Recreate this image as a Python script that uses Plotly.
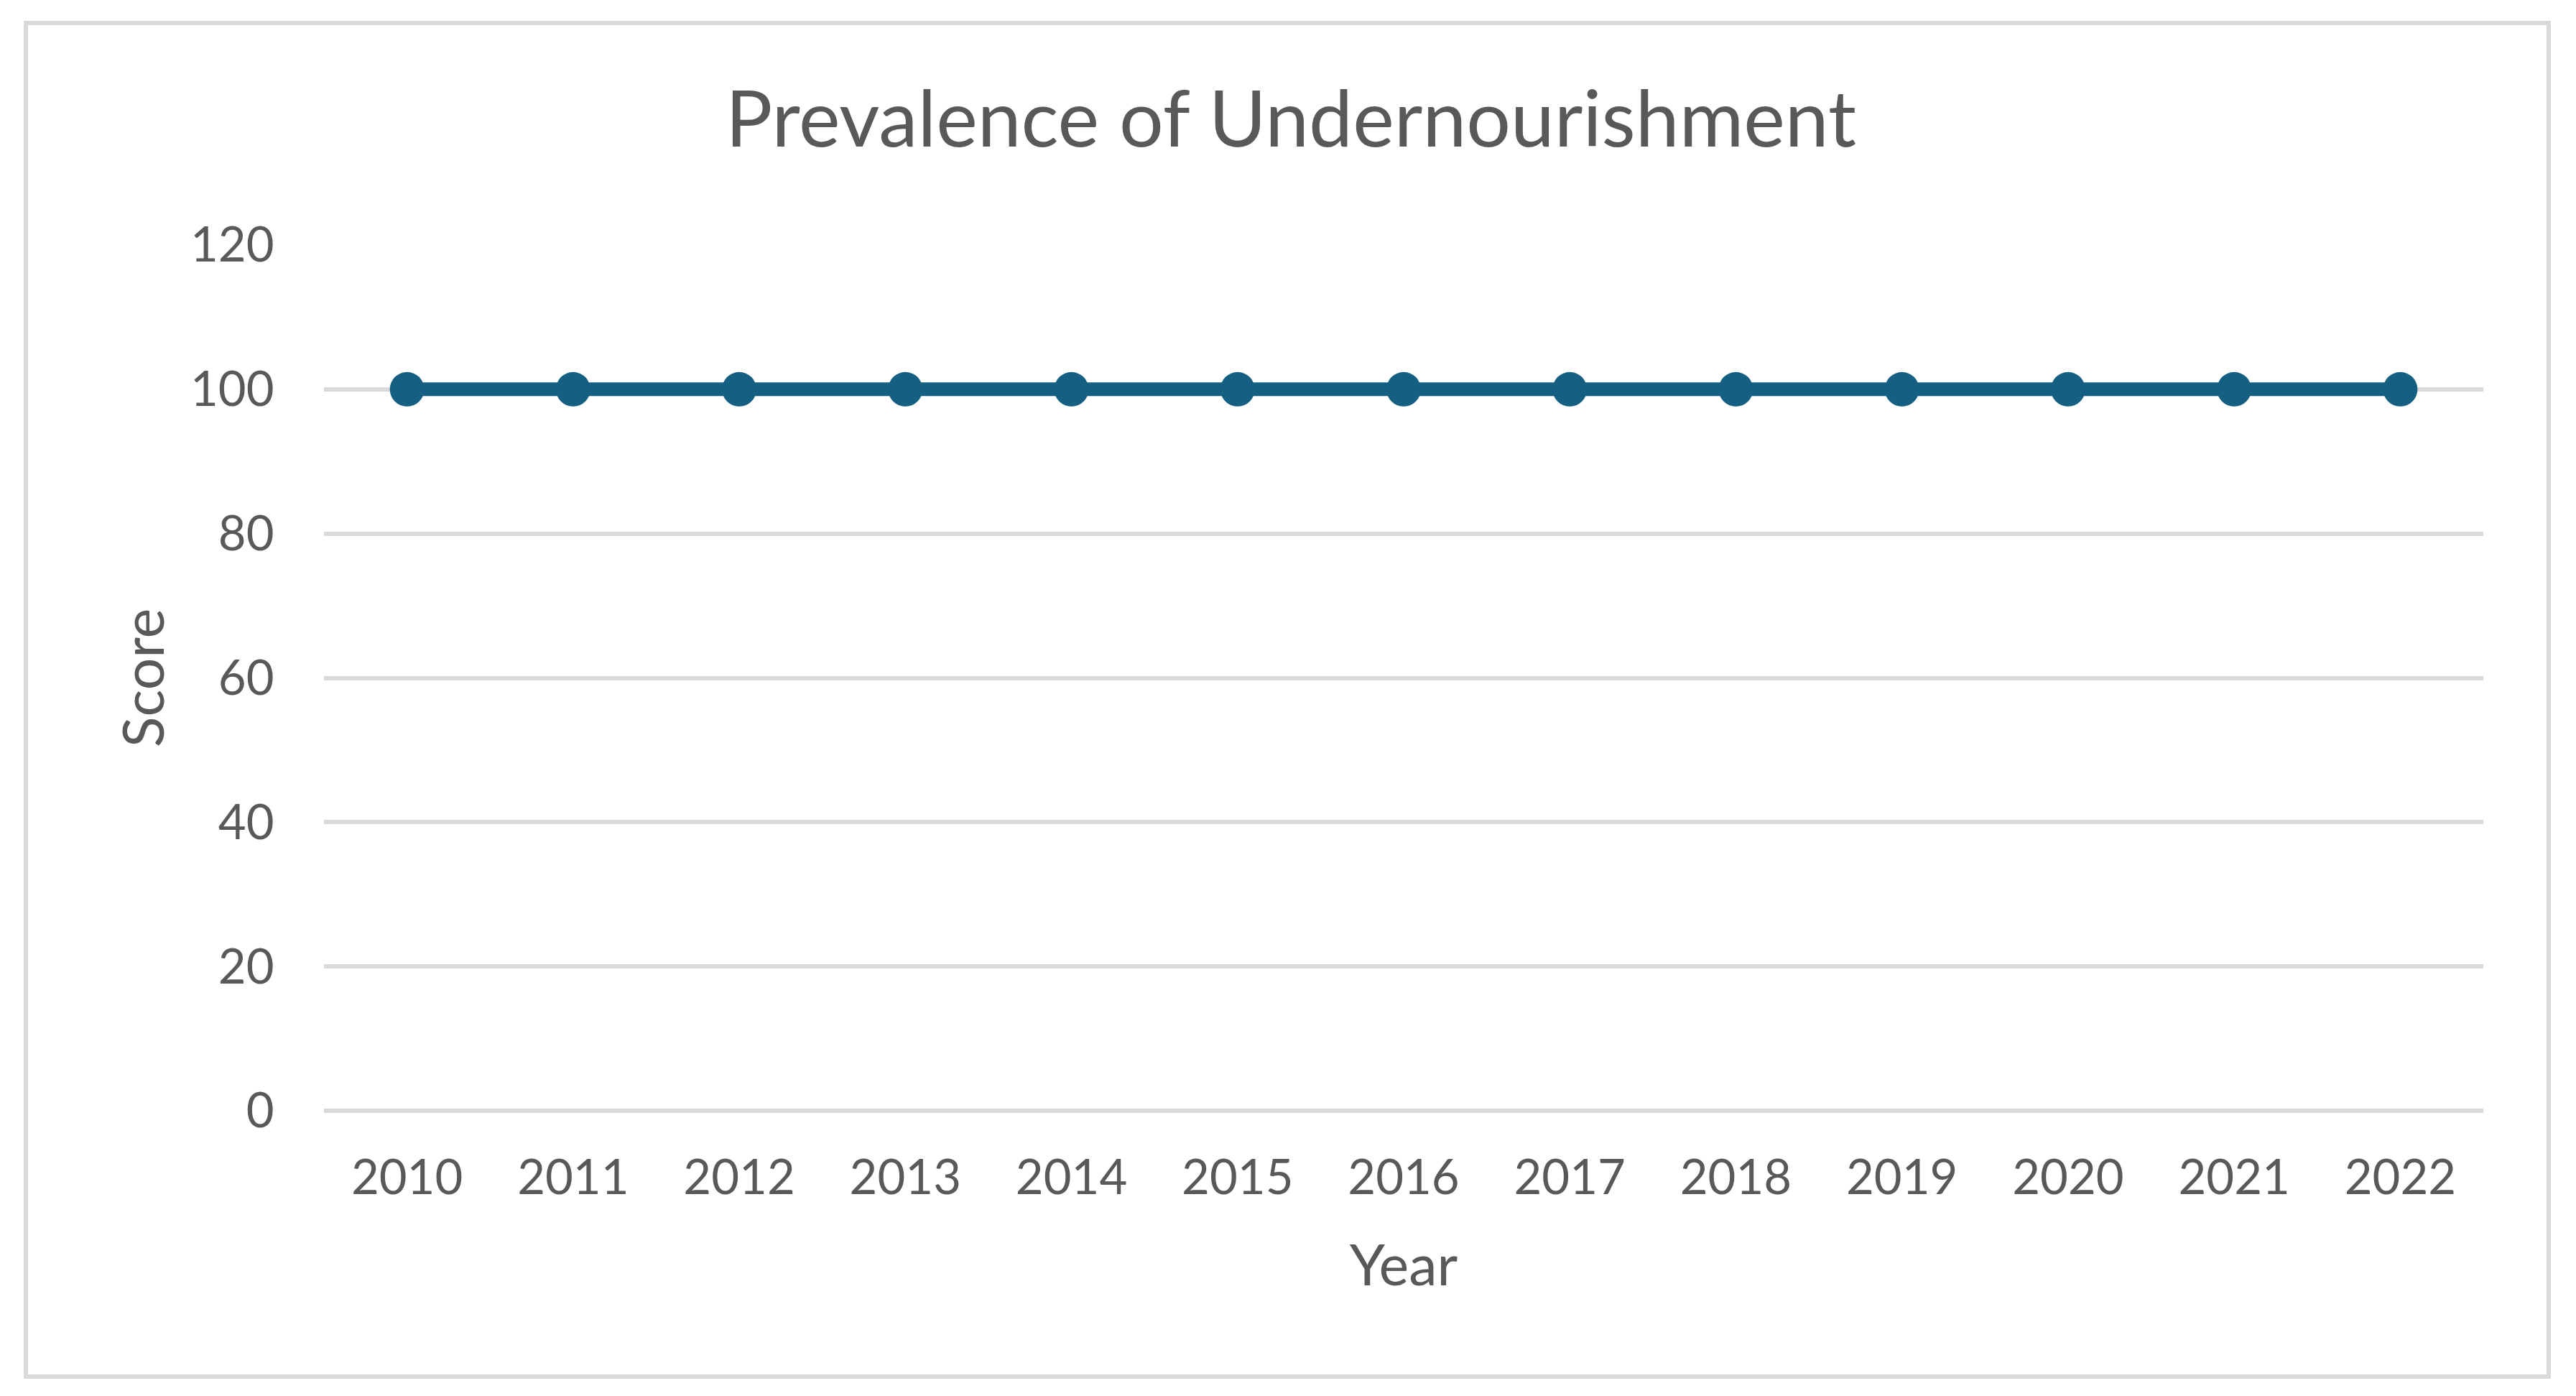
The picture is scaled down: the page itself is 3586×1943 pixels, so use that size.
import plotly.graph_objects as go

years = ["2010", "2011", "2012", "2013", "2014", "2015", "2016",
         "2017", "2018", "2019", "2020", "2021", "2022"]
scores = [100, 100, 100, 100, 100, 100, 100, 100, 100, 100, 100, 100, 100]
y_ticks = [0, 20, 40, 60, 80, 100, 120]

W, H = 3586, 1943
OFF = 8  # page body margin offset
PL, PR, PT, PB = 451 - OFF, 3457 - OFF, 341 - OFF, 1546 - OFF  # plot area in pixels
FONT = "Lato"
TXT = "#595959"
GRID = "#D9D9D9"
LINE = "#156082"

fig = go.Figure()
fig.add_trace(go.Scatter(
    x=years, y=scores, mode="lines+markers",
    line=dict(color=LINE, width=19),
    marker=dict(color=LINE, size=48),
    showlegend=False, hoverinfo="x+y",
))

pw, ph = PR - PL, PB - PT
def px2x(p):
    return (p - OFF - PL) / pw
def py2y(p):
    return (PB - (p - OFF)) / ph

fig.add_shape(type="rect", xref="paper", yref="paper",
              x0=px2x(36), x1=px2x(3548), y0=py2y(1916), y1=py2y(32),
              line=dict(color=GRID, width=6), fillcolor="rgba(0,0,0,0)", layer="below")

fig.update_layout(
    width=W, height=H,
    margin=dict(l=PL, r=W - PR, t=PT, b=H - PB, pad=0),
    paper_bgcolor="white", plot_bgcolor="white",
    font=dict(family=FONT, color=TXT),
    title=dict(text="Prevalence of Undernourishment",
               font=dict(family=FONT, size=109, color=TXT),
               x=(1797 - OFF) / W, xanchor="center", xref="container",
               y=1 - (128 - OFF) / H, yanchor="top", yref="container"),
    xaxis=dict(
        type="category", range=[-0.5, 12.5],
        showgrid=False, zeroline=False, showline=False,
        ticks="outside", ticklen=1, tickcolor="rgba(0,0,0,0)",
        ticklabelstandoff=34,
        tickfont=dict(family=FONT, size=67, color=TXT),
        title=dict(text="Year", font=dict(family=FONT, size=79, color=TXT), standoff=58),
    ),
    yaxis=dict(
        range=[0, 120], tickvals=y_ticks,
        showgrid=True, gridcolor=GRID, gridwidth=6,
        zeroline=True, zerolinecolor=GRID, zerolinewidth=6,
        showline=False,
        ticks="outside", ticklen=1, tickcolor="rgba(0,0,0,0)",
        ticklabelstandoff=54,
        tickfont=dict(family=FONT, size=67, color=TXT),
        title=dict(text="Score", font=dict(family=FONT, size=79, color=TXT), standoff=10),
    ),
)

fig.write_html("out.html")
